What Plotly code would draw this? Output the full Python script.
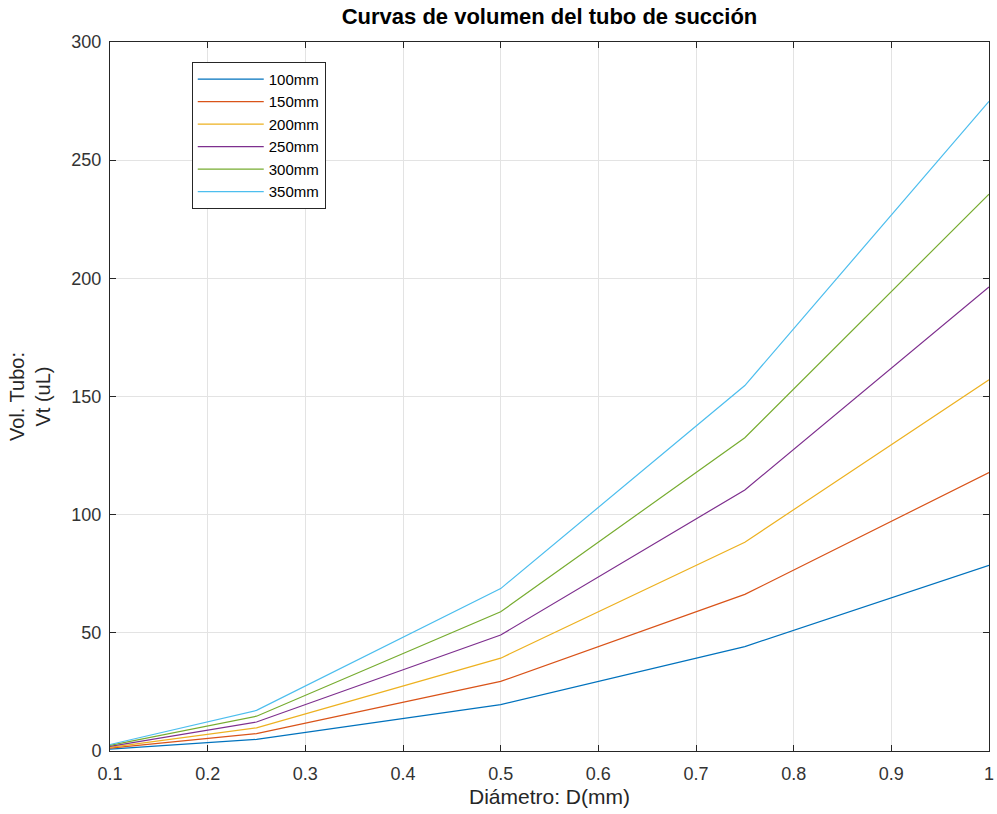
import plotly.graph_objects as go

diametro = [0.1, 0.25, 0.5, 0.75, 1.0]
etiquetas = ["100mm", "150mm", "200mm", "250mm", "300mm", "350mm"]
v100 = [0.785, 4.91, 19.63, 44.18, 78.54]
v150 = [1.178, 7.36, 29.45, 66.27, 117.81]
v200 = [1.571, 9.82, 39.27, 88.36, 157.08]
v250 = [1.963, 12.27, 49.09, 110.45, 196.35]
v300 = [2.356, 14.73, 58.90, 132.54, 235.62]
v350 = [2.749, 17.18, 68.72, 154.62, 274.89]
series = [v100, v150, v200, v250, v300, v350]
colores = ["#0072BD", "#D95319", "#EDB120", "#7E2F8E", "#77AC30", "#4DBEEE"]

fig = go.Figure()
for name, ys, c in zip(etiquetas, series, colores):
    fig.add_trace(go.Scatter(x=diametro, y=ys, mode="lines", name=name,
                             line=dict(color=c, width=1.2)))

axis_common = dict(showgrid=True, gridcolor="#e3e3e3", gridwidth=1,
                   showline=True, linecolor="#262626", linewidth=1,
                   mirror="ticks", ticks="inside", ticklen=6, tickcolor="#262626",
                   zeroline=False, automargin=False,
                   tickfont=dict(size=18, color="#333333"))

fig.update_layout(
    width=997, height=814,
    margin=dict(l=110, r=8, t=42, b=63),
    paper_bgcolor="white", plot_bgcolor="white",
    font=dict(family="Liberation Sans, Arial, sans-serif", color="#262626"),
    title=dict(text="<b>Curvas de volumen del tubo de succión</b>", x=0.5, xref="paper",
               xanchor="center", y=0.99, yanchor="top", font=dict(size=22, color="#000000")),
    xaxis=dict(range=[0.1, 1], tickvals=[0.1, 0.2, 0.3, 0.4, 0.5, 0.6, 0.7, 0.8, 0.9, 1],
               ticktext=["0.1", "0.2", "0.3", "0.4", "0.5", "0.6", "0.7", "0.8", "0.9", "1"],
               ticklabelstandoff=6,
               title=dict(text="Diámetro: D(mm)", font=dict(size=21), standoff=6),
               **axis_common),
    yaxis=dict(range=[0, 300], tickvals=[0, 50, 100, 150, 200, 250, 300],
               ticklabelstandoff=4,
               title=dict(text="Vol. Tubo:<br>Vt (uL)", font=dict(size=20), standoff=15),
               **axis_common),
    legend=dict(x=0.093, y=0.972, xanchor="left", yanchor="top",
                bgcolor="white", bordercolor="#262626", borderwidth=1,
                font=dict(size=15, color="#000000"), itemwidth=66,
                tracegroupgap=0),
    showlegend=True,
)

fig.write_html("out.html")
